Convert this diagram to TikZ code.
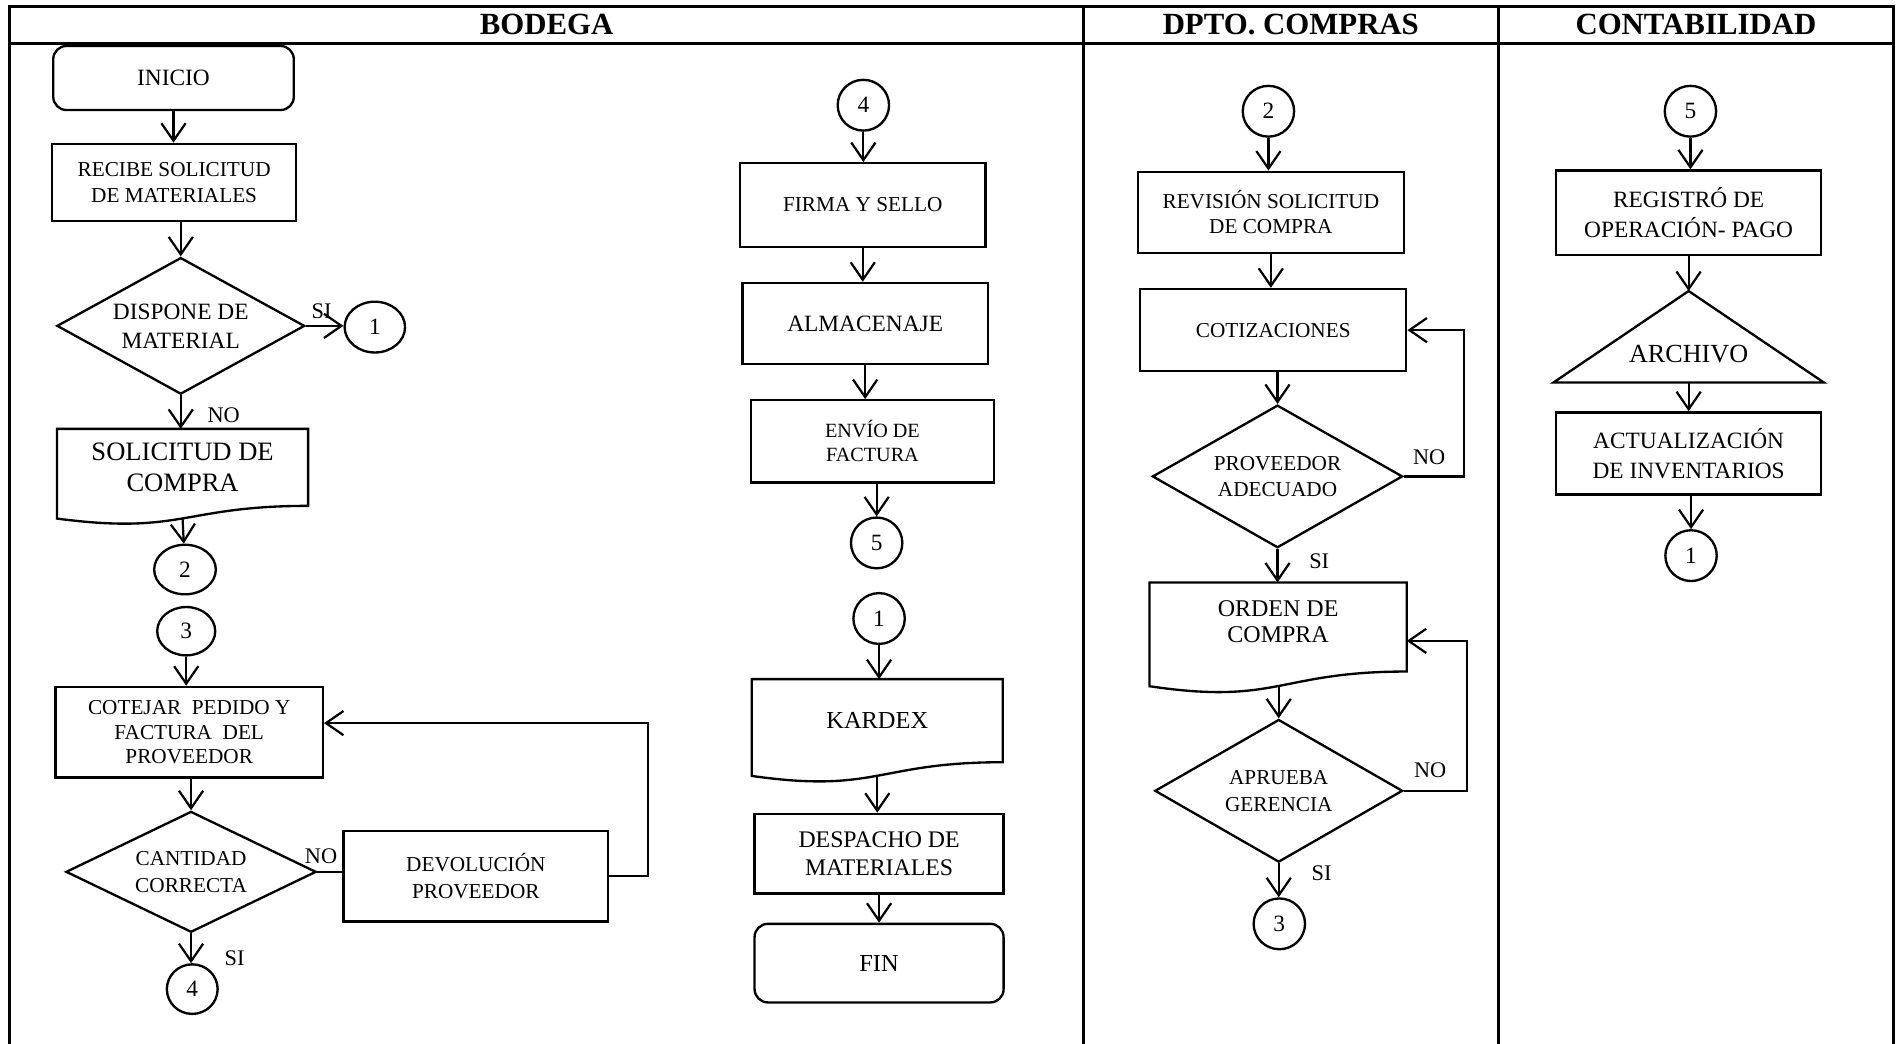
\documentclass[tikz,border=0pt]{standalone}
\usepackage{fontspec}
\setmainfont{Liberation Serif}
\usetikzlibrary{arrows.meta, positioning, calc, shapes.geometric}

\newcommand{\fsz}[2]{\fontsize{#1}{#2}\selectfont}
% document symbol: borderless node + wavy bottom, (#1w) = middle of the wave
\newcommand{\docline}[1]{%
  \draw[line width=1.1pt] (#1.south east) -- (#1.north east) -- (#1.north west)
    -- ($(#1.south west)!-0.165!(#1.north west)$)
    .. controls ($(#1.south)!-0.38!(#1.north)$) and (#1.south) .. (#1.south east) -- cycle;
  \coordinate (#1w) at ($(#1.south)!-0.165!(#1.north)$);}

\begin{document}
\begin{tikzpicture}[
  x=0.02cm, y=-0.02cm,
  every node/.style={font=\fsz{10}{12}},
  frame/.style={line width=1.4pt},
  box/.style={draw, line width=1.1pt, inner sep=1pt, align=center},
  term/.style={box, rounded corners=0.22cm},
  dec/.style={diamond, draw, line width=1.1pt, inner sep=0pt, aspect=1.8, align=center},
  doc/.style={inner sep=1pt, align=center},
  con/.style={ellipse, draw, line width=1.1pt, inner sep=0pt,
              minimum width=0.85cm, minimum height=0.84cm, font=\fsz{11}{13}},
  head/.style={font=\bfseries\fsz{14.5}{17}},
  lbl/.style={font=\fsz{10.5}{12}, inner sep=0pt},
  arr/.style={-{Straight Barb[length=2.9mm, width=4mm]}, line width=1.05pt},
  lnk/.style={line width=1.05pt},
]
  \useasboundingbox (0,0) rectangle (1568,863);

  % table frame and lanes
  \draw[frame] (8,863) -- (8,5) -- (1566,5) -- (1566,863);
  \draw[frame] (8,36) -- (1566,36);
  \draw[frame] (896,5) -- (896,863);
  \draw[frame] (1239,5) -- (1239,863);
  \node[head] (hbod) at (452,20.5) {BODEGA};
  \node[head] (hcom) at (1067.5,20.5) {DPTO. COMPRAS};
  \node[head] (hcon) at (1402.5,20.5) {CONTABILIDAD};

  % --- bodega: solicitud
  \node[term, minimum width=3.98cm, minimum height=1.06cm, font=\fsz{11}{13}] (ini) at (143.5,64.5) {INICIO};
  \node[box, minimum width=4.04cm, minimum height=1.28cm] (rec) at (144,151) {RECIBE SOLICITUD\\DE MATERIALES};
  \node[dec, minimum width=4.1cm, minimum height=2.26cm, font=\fsz{11}{13.6}] (disp) at (149.5,269.5) {DISPONE DE\\MATERIAL};
  \node[con, minimum width=1cm, minimum height=0.84cm] (c1a) at (310,270.5) {1};
  \node[doc, minimum width=4.14cm, minimum height=1.26cm, font=\fsz{12.5}{14.2}] (sol) at (151,386.5) {SOLICITUD DE\\COMPRA};
  \docline{sol}
  \node[con, minimum width=1.02cm, minimum height=0.82cm] (c2a) at (153,471) {2};

  \draw[arr] (ini) -- (ini |- rec.north);
  \draw[arr] (disp |- rec.south) -- (disp);
  \draw[arr] (disp.east) -- node[lbl, pos=0.42, yshift=0.25cm] {SI} (disp.east -| c1a.west);
  \draw[arr] (disp) -- node[lbl, pos=0.6, xshift=0.71cm] {NO} (disp |- sol.north);
  \draw[arr] (solw) -- (c2a);

  % --- bodega: recepcion
  \node[con, minimum width=0.96cm, minimum height=0.8cm] (c3a) at (154,522) {3};
  \node[box, minimum width=4.42cm, minimum height=1.5cm, font=\fsz{10}{11.6}] (cot) at (156.5,605.5) {COTEJAR\ \ PEDIDO Y\\FACTURA\ \ DEL\\PROVEEDOR};
  \node[dec, aspect=2.07, minimum width=4.14cm, minimum height=2cm, font=\fsz{10}{12.5}] (cant) at (158,721) {CANTIDAD\\CORRECTA};
  \node[box, minimum width=4.38cm, minimum height=1.5cm, font=\fsz{10}{12.5}] (dev) at (393.5,724.5) {DEVOLUCIÓN\\PROVEEDOR};
  \node[con, minimum width=0.84cm, minimum height=0.82cm] (c4a) at (159,818) {4};

  \draw[arr] (c3a) -- (c3a |- cot.north);
  \draw[arr] (cant |- cot.south) -- (cant);
  \draw[lnk] (cant.east) -- node[lbl, pos=0.15, yshift=0.26cm] {NO} (cant.east -| dev.west);
  \draw[arr] (dev.east) -- ++(32,0) |- ([yshift=0.15cm]cot.east);
  \draw[arr] (cant) -- node[lbl, pos=0.85, xshift=0.72cm] {SI} (cant |- c4a.north);

  % --- bodega: almacenaje y despacho
  \node[con] (c4b) at (714,87) {4};
  \node[box, minimum width=4.06cm, minimum height=1.38cm] (firma) at (713.5,169.5) {FIRMA Y SELLO};
  \node[box, minimum width=4.06cm, minimum height=1.34cm, font=\fsz{11}{13}] (alm) at (715.5,267.5) {ALMACENAJE};
  \node[box, minimum width=4.02cm, minimum height=1.36cm, font=\fsz{9.5}{11.3}] (env) at (721.5,365) {ENVÍO DE\\FACTURA};
  \node[con] (c5a) at (725,449) {5};
  \node[con] (c1b) at (727,511.5) {1};
  \node[doc, minimum width=4.14cm, minimum height=1.36cm, font=\fsz{11.5}{13.5}] (kar) at (725.5,596) {KARDEX};
  \docline{kar}
  \node[box, minimum width=4.12cm, minimum height=1.32cm, font=\fsz{11.2}{13.6}] (desp) at (727,706) {DESPACHO DE\\MATERIALES};
  \node[term, minimum width=4.12cm, minimum height=1.3cm, font=\fsz{11.5}{13}] (fin) at (727,796.5) {FIN};

  \draw[arr] (c4b) -- (c4b |- firma.north);
  \draw[arr] (firma) -- (firma |- alm.north);
  \draw[arr] (alm) -- (alm |- env.north);
  \draw[arr] (c5a |- env.south) -- (c5a);
  \draw[arr] (c1b) -- (c1b |- kar.north);
  \draw[arr] (karw) -- (karw |- desp.north);
  \draw[arr] (desp) -- (desp |- fin.north);

  % --- dpto. compras
  \node[con] (c2b) at (1049,92) {2};
  \node[box, minimum width=4.4cm, minimum height=1.34cm] (rev) at (1051,175.5) {REVISIÓN SOLICITUD\\DE COMPRA};
  \node[box, minimum width=4.4cm, minimum height=1.36cm] (cotz) at (1053,273) {COTIZACIONES};
  \node[dec, aspect=1.75, minimum width=4.14cm, minimum height=2.36cm, font=\fsz{10}{11.9}] (prov) at (1056.5,394) {PROVEEDOR\\ADECUADO};
  \node[doc, minimum width=4.24cm, minimum height=1.46cm, font=\fsz{11.3}{12.5}] (ord) at (1057,518.5) {ORDEN DE\\COMPRA\\[-7.5pt]};
  \docline{ord}
  \node[dec, aspect=1.74, minimum width=4.1cm, minimum height=2.36cm, font=\fsz{10}{12.5}] (apr) at (1057.5,654) {APRUEBA\\GERENCIA};
  \node[con] (c3b) at (1058,764) {3};

  \draw[arr] (c2b) -- (c2b |- rev.north);
  \draw[arr] (rev) -- (rev |- cotz.north);
  \draw[arr] (prov |- cotz.south) -- (prov);
  \draw[arr] (prov.east) -- node[lbl, pos=0.42, yshift=0.32cm] {NO} ++(50,0) |- (cotz.east);
  \draw[arr] (prov) -- node[lbl, pos=0.38, xshift=0.69cm] {SI} (prov |- ord.north);
  \draw[arr] (apr |- ordw) -- (apr);
  \draw[arr] (apr.east) -- node[lbl, pos=0.42, yshift=0.34cm] {NO} ++(52,0) |- ([yshift=-0.23cm]ord.east);
  \draw[arr] (apr) -- node[lbl, pos=0.3, xshift=0.71cm] {SI} (apr |- c3b.north);

  % --- contabilidad
  \node[con] (c5b) at (1398,92) {5};
  \node[box, minimum width=4.38cm, minimum height=1.4cm, font=\fsz{11}{14.2}] (reg) at (1396.5,176) {REGISTRÓ DE\\OPERACIÓN- PAGO};
  \node[minimum width=4.46cm, minimum height=1.5cm, inner sep=0pt] (arch) at (1396.5,278.5) {};
  \draw[line width=1.1pt] (arch.south west) -- (arch.north) -- (arch.south east) -- cycle;
  \node[font=\fsz{12.3}{14}] (archt) at ([yshift=-0.29cm]arch.center) {ARCHIVO};
  \node[box, minimum width=4.38cm, minimum height=1.36cm, font=\fsz{11}{14.2}] (act) at (1396.5,375) {ACTUALIZACIÓN\\DE INVENTARIOS};
  \node[con] (c1c) at (1398.5,459.5) {1};

  \draw[arr] (c5b) -- (c5b |- reg.north);
  \draw[arr] (reg) -- (reg |- arch.north);
  \draw[arr] (arch.south) -- (arch.south |- act.north);
  \draw[arr] (c1c |- act.south) -- (c1c);
\end{tikzpicture}
\end{document}
